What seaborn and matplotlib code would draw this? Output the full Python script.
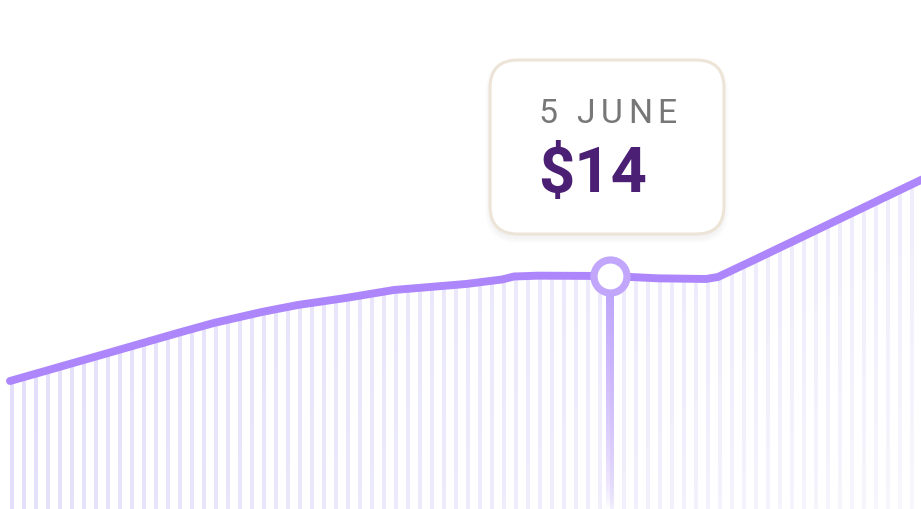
import numpy as np
import pandas as pd
import matplotlib
matplotlib.use('Agg')
import matplotlib.pyplot as plt
import matplotlib.dates as mdates
from matplotlib.patches import FancyBboxPatch
from matplotlib.transforms import IdentityTransform
from matplotlib.font_manager import FontProperties
import seaborn as sns

# price series
dates = ['2024-04-16', '2024-04-23', '2024-04-30', '2024-05-03', '2024-05-07',
         '2024-05-10', '2024-05-14', '2024-05-18', '2024-05-24', '2024-05-27',
         '2024-05-28', '2024-05-30', '2024-06-05', '2024-06-09', '2024-06-13',
         '2024-06-14', '2024-06-17', '2024-07-01']
prices = [7.69, 9.13, 10.58, 11.18, 11.84,
          12.26, 12.68, 13.16, 13.52, 13.79,
          13.97, 14.02, 14.0, 13.86, 13.82,
          13.94, 14.96, 19.80]

tip_date = '2024-06-05'
tip_label = '5 JUNE'
tip_value = '$14'

line_color = '#ad86fc'
stripe_color = '#e4e0fb'
ring_color = '#c2a6fb'

sns.set_theme(style='white')
plt.rcParams['font.family'] = ['Roboto', 'DejaVu Sans']

df = pd.DataFrame({'date': pd.to_datetime(dates), 'price': prices})
W, H = 921, 510

fig = plt.figure(figsize=(W / 100, H / 100), dpi=100)
ax = fig.add_axes([0, 0, 1, 1])
ax.set_axis_off()

d0 = mdates.date2num(df['date'].iloc[0])
px_per_day = 12.0
x_lo = d0 - 10 / px_per_day
x_hi = x_lo + W / px_per_day
y_hi = 14.0 * H / 233.0

sns.lineplot(data=df, x='date', y='price', ax=ax, color=line_color, lw=5.7,
             zorder=5, solid_capstyle='round', solid_joinstyle='round')
ax.set_xlim(x_lo, x_hi)
ax.set_ylim(0, y_hi)

# striped area under the line, fading to the lower right
cols = np.arange(W) + 0.5
rows = np.arange(H) + 0.5
ph = (cols - 12) % 12
on = ((ph < 2.3) | (ph > 9.7)).astype(float)
xn = cols / W
yn = rows / H
fade = 1 - 0.75 * np.clip(xn[None, :] * (0.3 + 0.7 * yn[:, None]), 0, 1)
rgba = np.zeros((H, W, 4))
rgba[..., :3] = matplotlib.colors.to_rgb(stripe_color)
rgba[..., 3] = on[None, :] * fade
xnum = mdates.date2num(df['date'])
poly = ax.fill_between(xnum, df['price'], 0, color='none', lw=0)
im = ax.imshow(rgba, extent=[x_lo, x_hi, 0, y_hi], origin='upper',
               aspect='auto', interpolation='nearest', zorder=2)
im.set_clip_path(poly.get_paths()[0], ax.transData)

# highlighted point
tx = mdates.date2num(pd.Timestamp(tip_date))
ty = df.loc[df['date'] == pd.Timestamp(tip_date), 'price'].iloc[0]
hw = 3.5 / px_per_day
t = np.linspace(1, 0, 200)
grad = np.zeros((200, 2, 4))
grad[..., :3] = matplotlib.colors.to_rgb('#bea2fb')
grad[..., 3] = (np.clip((t * ty - 0.1) / (ty - 0.1), 0, 1) ** 0.6)[:, None]
ax.imshow(grad, extent=[tx - hw, tx + hw, 0, ty], origin='upper',
          aspect='auto', interpolation='bilinear', zorder=6)
ax.scatter([tx], [ty], s=566, facecolor='white', edgecolor=ring_color,
           linewidth=5.2, zorder=7)

# tooltip box
mx, my = ax.transData.transform((tx, ty))
bx, by, bw, bh = mx - 120, my + 42, 234, 174
for i in range(6):
    ax.add_patch(FancyBboxPatch((bx - i, by - 4 - i), bw + 2 * i, bh + 2 * i,
                                boxstyle='round,pad=0,rounding_size=%d' % (28 + i),
                                transform=IdentityTransform(), facecolor='black',
                                edgecolor='none', alpha=0.008, zorder=8))
ax.add_patch(FancyBboxPatch((bx, by), bw, bh,
                            boxstyle='round,pad=0,rounding_size=28',
                            transform=IdentityTransform(), facecolor='white',
                            edgecolor='#ede4d8', lw=2.2, zorder=9))

renderer = fig.canvas.get_renderer()
fp = FontProperties(family='Roboto', size=24.3)
cx = mx - 72
for ch in tip_label:
    fig.text(cx, my + 154, ch, transform=IdentityTransform(), fontproperties=fp,
             color='#777777', va='baseline', ha='left', zorder=10)
    w, _, _ = renderer.get_text_width_height_descent(ch, fp, ismath=False)
    cx += w + 5.5

fig.text(mx - 72, my + 85, tip_value, transform=IdentityTransform(),
         family='Roboto', fontsize=45.5, fontweight='bold', color='#4b1f73',
         va='baseline', ha='left', zorder=10)

fig.savefig('out.png', dpi=100)
